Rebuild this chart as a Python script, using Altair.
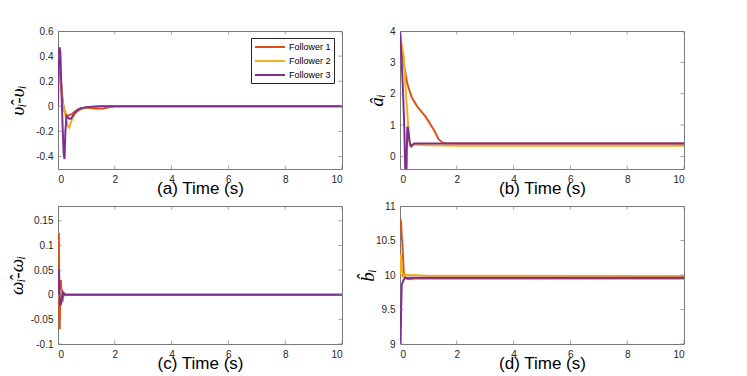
import altair as alt
import pandas as pd

SERIES = ["Follower 1", "Follower 2", "Follower 3"]
COLORS = ["#D95319", "#EDB120", "#7E2F8E"]
X_TICKS = [0, 2, 4, 6, 8, 10]

# ---- panel (a): v_hat - v ----
a_t1 = [0, 0.03, 0.06, 0.1, 0.15, 0.2, 0.25, 0.3, 0.35, 0.4, 0.5, 0.6, 0.7, 0.8, 1.0, 1.2, 1.4, 1.6, 1.8, 2.0, 2.5, 10]
a_v1 = [0.27, 0.33, 0.3, 0.2, 0.08, -0.01, -0.05, -0.07, -0.075, -0.07, -0.06, -0.04, -0.025, -0.015, -0.01, -0.015, -0.02, -0.018, -0.008, 0, 0, 0]
a_t2 = [0, 0.03, 0.06, 0.1, 0.15, 0.2, 0.25, 0.3, 0.35, 0.4, 0.45, 0.5, 0.6, 0.7, 0.8, 1.0, 1.2, 1.5, 2, 10]
a_v2 = [0.25, 0.38, 0.35, 0.2, 0.05, -0.02, -0.06, -0.12, -0.16, -0.17, -0.13, -0.1, -0.06, -0.04, -0.025, -0.01, -0.005, 0, 0, 0]
a_t3 = [0, 0.02, 0.05, 0.08, 0.12, 0.16, 0.2, 0.23, 0.26, 0.3, 0.35, 0.4, 0.45, 0.5, 0.6, 0.7, 0.8, 1.0, 1.2, 1.5, 2, 10]
a_v3 = [0, 0.3, 0.47, 0.44, 0.15, -0.15, -0.38, -0.42, -0.2, -0.08, -0.09, -0.1, -0.1, -0.085, -0.05, -0.03, -0.018, -0.008, -0.003, 0, 0, 0]

# ---- panel (b): a_hat ----
b_t1 = [0, 0.03, 0.07, 0.12, 0.19, 0.25, 0.3, 0.42, 0.6, 0.9, 1.19, 1.36, 1.5, 1.6, 1.8, 2, 10]
b_v1 = [4, 3.7, 3.35, 3.0, 2.65, 2.35, 2.2, 1.87, 1.6, 1.27, 0.85, 0.55, 0.44, 0.42, 0.41, 0.41, 0.41]
b_t2 = [0, 0.05, 0.13, 0.21, 0.3, 0.36, 0.4, 0.45, 0.5, 0.6, 1.0, 2.0, 10]
b_v2 = [4, 3.6, 3.2, 2.0, 0.85, 0.32, 0.3, 0.36, 0.38, 0.37, 0.36, 0.34, 0.34]
b_t3 = [0, 0.05, 0.1, 0.15, 0.18, 0.2, 0.22, 0.24, 0.26, 0.28, 0.3, 0.33, 0.37, 0.4, 0.45, 0.5, 0.6, 10]
b_v3 = [4, 3.2, 2.2, 1.0, -0.2, -1.0, -1.0, 0.2, 0.95, 0.9, 0.75, 0.5, 0.36, 0.33, 0.38, 0.41, 0.41, 0.41]

# ---- panel (c): w_hat - w ----
c_t1 = [0, 0.015, 0.03, 0.045, 0.06, 0.08, 0.1, 0.12, 0.15, 0.18, 0.22, 0.3, 10]
c_v1 = [0, 0.1, 0.125, -0.04, -0.07, 0.0, 0.03, 0.01, -0.015, -0.005, 0.003, 0, 0]
c_t2 = [0, 0.02, 0.05, 0.08, 0.12, 0.16, 0.2, 0.3, 10]
c_v2 = [0, 0.02, -0.01, 0.01, -0.01, 0.005, 0.0, 0, 0]
c_t3 = [0, 0.02, 0.035, 0.05, 0.07, 0.1, 0.13, 0.17, 0.22, 0.3, 10]
c_v3 = [0, 0.05, 0.05, 0.0, -0.02, -0.02, -0.01, 0.005, 0, 0, 0]

# ---- panel (d): b_hat ----
d_t1 = [0, 0.02, 0.04, 0.06, 0.08, 0.1, 0.13, 0.16, 0.2, 0.3, 0.5, 1.0, 10]
d_v1 = [10.8, 10.8, 10.75, 10.55, 10.5, 10.3, 10.05, 9.97, 9.95, 9.94, 9.95, 9.95, 9.95]
d_t2 = [0, 0.03, 0.06, 0.1, 0.15, 0.3, 0.6, 1.0, 10]
d_v2 = [10.0, 10.3, 10.1, 9.98, 10.0, 10.0, 9.995, 9.99, 9.985]
d_t3 = [0, 0.02, 0.04, 0.06, 0.08, 0.1, 0.13, 0.16, 0.2, 0.3, 10]
d_v3 = [9.0, 9.0, 9.5, 9.85, 9.88, 9.9, 9.93, 9.95, 9.96, 9.96, 9.96]

A_TICKS = [-0.4, -0.2, 0, 0.2, 0.4, 0.6]
B_TICKS = [0, 1, 2, 3, 4]
C_TICKS = [-0.1, -0.05, 0, 0.05, 0.1, 0.15]
D_TICKS = [9, 9.5, 10, 10.5, 11]

GRAY = "#7a7a7a"
LABEL_EXPR = "replace(format(datum.value, '~g'), '\u2212', '-')"


def frame(ts, vs):
    rows = []
    for name, t, v in zip(SERIES, ts, vs):
        rows += [{"t": ti, "v": vi, "s": name} for ti, vi in zip(t, v)]
    return pd.DataFrame(rows)


def panel(df, ydom, yticks, ytitle, xtitle, title_x, show_legend=False):
    x = alt.X("t:Q", scale=alt.Scale(domain=[0, 10], nice=False, zero=False),
              axis=alt.Axis(values=X_TICKS, title=xtitle, labelExpr=LABEL_EXPR))
    y = alt.Y("v:Q", scale=alt.Scale(domain=ydom, nice=False, zero=False),
              axis=alt.Axis(values=yticks, title=ytitle, labelExpr=LABEL_EXPR, titleX=title_x))
    if show_legend:
        leg = alt.Legend(orient="none", legendX=193, legendY=7, title=None,
                         strokeColor="#262626", fillColor="white", padding=3,
                         symbolType="M-1,0H5", symbolStrokeWidth=2, symbolSize=100,
                         labelFontSize=9, labelFont="Liberation Sans", labelColor="#000000",
                         rowPadding=3, labelOffset=23, symbolOffset=0)
    else:
        leg = None
    color = alt.Color("s:N", scale=alt.Scale(domain=SERIES, range=COLORS), legend=leg)
    lines = alt.Chart(df).mark_line(clip=True, strokeWidth=2).encode(x=x, y=y, color=color)
    xt = pd.DataFrame([{"t": t, "v": e} for t in X_TICKS for e in ydom])
    yt = pd.DataFrame([{"t": e, "v": v} for v in yticks for e in [0, 10]])
    xtk = alt.Chart(xt).mark_tick(orient="vertical", size=7, thickness=1, color=GRAY, clip=True).encode(x=x, y=y)
    ytk = alt.Chart(yt).mark_tick(orient="horizontal", size=7, thickness=1, color=GRAY, clip=True).encode(x=x, y=y)
    return alt.layer(lines, xtk, ytk).properties(width=284, height=138)


pa = panel(frame([a_t1, a_t2, a_t3], [a_v1, a_v2, a_v3]), [-0.5, 0.6], A_TICKS,
           "\u03c5\u0302\u1d62-\u03c5\u1d62", "(a) Time (s)", -31, True)
pb = panel(frame([b_t1, b_t2, b_t3], [b_v1, b_v2, b_v3]), [-0.4, 4], B_TICKS,
           "a\u0302\u1d62", "(b) Time (s)", -14)
pc = panel(frame([c_t1, c_t2, c_t3], [c_v1, c_v2, c_v3]), [-0.1, 0.18], C_TICKS,
           "\u03c9\u0302\u1d62-\u03c9\u1d62", "(c) Time (s)", -32)
pd_ = panel(frame([d_t1, d_t2, d_t3], [d_v1, d_v2, d_v3]), [9, 11], D_TICKS,
            "b\u0302\u1d62", "(d) Time (s)", -23)

chart = alt.concat(pa, pb, pc, pd_, columns=2,
                   spacing=alt.RowColnumber(row=3, column=14)).resolve_legend(
    color="independent"
).properties(
    padding={"left": -2, "top": 17, "right": 5, "bottom": 5},
    background="white"
).configure_view(
    stroke=GRAY, strokeWidth=1
).configure_axis(
    labelFont="Liberation Sans", labelFontSize=10, labelColor="#262626",
    ticks=False, domain=False, grid=False, labelPadding=5,
    titleFont="Liberation Sans", titleFontSize=17, titleFontWeight="normal", titleColor="#000000"
).configure_axisX(
    titlePadding=-4
).configure_axisY(
    titleFont="Liberation Serif", titleFontStyle="italic", titleFontSize=19
)

chart.save("out.html", embed_options={"renderer": "svg", "actions": False})
